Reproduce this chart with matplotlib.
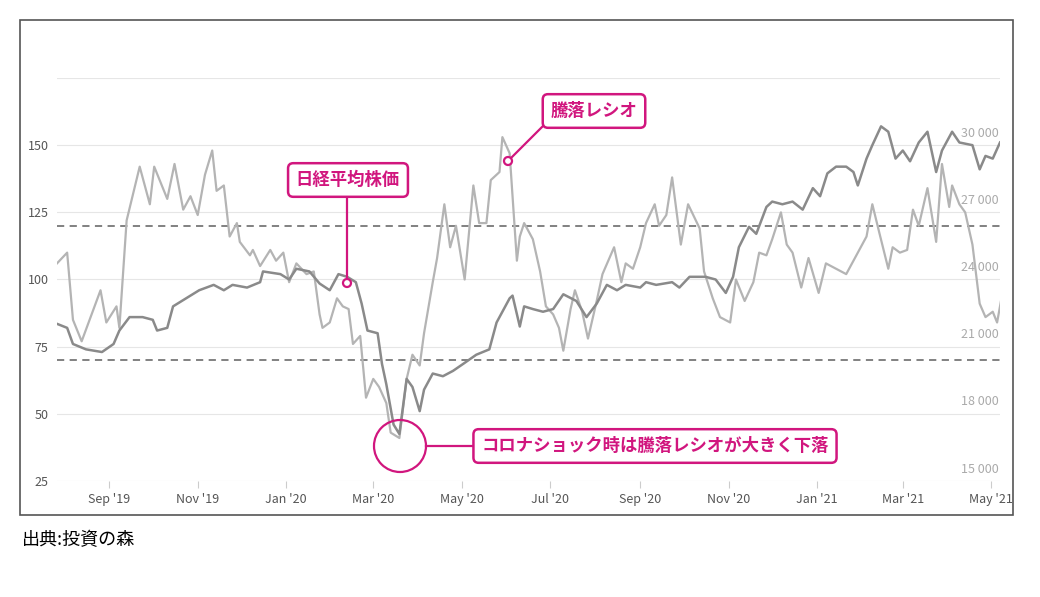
import matplotlib.pyplot as plt
import matplotlib.dates as mdates
from matplotlib.patches import Rectangle, Ellipse
import pandas as pd

plt.rcParams['font.family'] = ['Noto Sans CJK JP']

# 騰落レシオ (days since start, value)
start = pd.Timestamp('2019-07-27')
ratio_days = [0, 7, 11, 17, 30, 34, 41, 43, 48, 57, 64, 67, 76, 81, 87, 92, 97, 102, 107, 110,
              115, 119, 124, 126, 133, 135, 140, 147, 151, 156, 160, 165, 172, 177, 181, 183, 188,
              193, 197, 201, 204, 209, 213, 218, 222, 227, 230, 236, 241, 245, 250, 253, 259, 262,
              267, 271, 275, 281, 287, 291, 296, 299, 305, 307, 312, 317, 319, 322, 328, 333, 337,
              342, 346, 349, 354, 357, 362, 366, 372, 376, 384, 389, 392, 397, 402, 406, 412, 415,
              420, 424, 430, 435, 443, 446, 452, 457, 464, 468, 474, 480, 484, 489, 493, 499, 503,
              507, 513, 518, 525, 530, 537, 544, 553, 558, 562, 567, 573, 576, 581, 586, 590, 594,
              600, 606, 610, 615, 617, 622, 626, 631, 636, 640, 645, 648, 651]
ratio = [106, 110, 85, 77, 96, 84, 90, 82, 122, 142, 128, 142, 130, 143, 126, 131, 124, 139, 148, 133,
         135, 116, 121, 114, 109, 111, 105, 111, 107, 110, 99, 106, 102, 103, 87, 82, 84,
         93, 90, 89, 76, 79, 56, 63, 60, 54, 43, 41, 63, 72, 68, 80, 99, 108,
         128, 112, 120, 100, 135, 121, 121, 137, 140, 153, 147, 107, 116, 121, 115, 103, 90,
         87, 82, 73.5, 89, 96, 88, 78, 92, 102, 112, 99, 106, 104, 112, 121, 128, 120,
         124, 138, 113, 128, 119, 103, 93, 86, 84, 100, 92, 99, 110, 109, 115, 125, 113,
         110, 97, 108, 95, 106, 104, 102, 111, 116, 128, 117, 104, 112, 110, 111, 126, 120,
         134, 114, 143, 127, 135, 128, 125, 113, 91, 86, 88, 84, 93]

# 日経平均株価 (in left-axis units, right axis = 15000 + (v - 25) * 120)
nikkei_days = [0, 7, 11, 20, 31, 39, 43, 50, 59, 66, 69, 76, 80, 89, 98, 108, 115, 121, 131, 140,
               142, 154, 160, 165, 174, 181, 188, 194, 200, 206, 210, 214, 221, 224, 227, 232, 236,
               241, 245, 250, 253, 259, 266, 273, 280, 289, 298, 303, 312, 314, 319, 322, 328, 335,
               342, 349, 358, 365, 372, 379, 386, 392, 402, 406, 413, 424, 429, 436, 447, 454, 461,
               466, 470, 477, 482, 489, 493, 500, 507, 514, 521, 526, 531, 537, 544, 549, 552, 558,
               562, 568, 573, 578, 583, 588, 594, 600, 606, 610, 617, 622, 631, 636, 640, 645, 650]
nikkei = [83.5, 82, 76, 74, 73, 76, 81, 86, 86, 85, 81, 82, 90, 93, 96, 98, 96, 98, 97, 99,
          103, 102, 100, 104, 103, 98.5, 96, 102, 101, 99, 91, 81, 80, 68.6, 61, 46, 42.5,
          63, 60, 51, 59, 65, 64, 66, 68.6, 72, 74, 84, 93, 94, 82.5, 90, 89, 88,
          89, 94.5, 92, 86, 91, 98, 96, 98, 97, 99, 98, 99, 97, 101, 101, 100, 95,
          101, 112, 119.6, 117, 127, 129, 128, 129, 126, 134, 131, 139.5, 142, 142, 140, 135, 145,
          150, 157, 155, 145, 148, 144, 151, 155, 140, 148, 155, 151, 150, 141, 146, 145, 151]

ratio_dates = start + pd.to_timedelta(ratio_days, unit='D')
nikkei_dates = start + pd.to_timedelta(nikkei_days, unit='D')

magenta = '#d1167e'
fig = plt.figure(figsize=(10.4, 5.97), dpi=100)
ax = fig.add_axes([57/1040, 1-481/597, 943/1040, 403/597])

ax.plot(ratio_dates, ratio, color='#b4b4b4', lw=1.6, zorder=3)
ax.plot(nikkei_dates, nikkei, color='#8a8a8a', lw=1.8, zorder=4)
ax.axhline(120, color='#777777', ls='--', lw=1.3, dashes=(4, 3), zorder=2)
ax.axhline(70, color='#777777', ls='--', lw=1.3, dashes=(4, 3), zorder=2)

ax.set_ylim(25, 175)
ax.set_xlim(start, start + pd.Timedelta(days=650))
ax.set_yticks([25, 50, 75, 100, 125, 150, 175])
ax.set_yticklabels(['25', '50', '75', '100', '125', '150', ''])
ax.grid(axis='y', color='#e6e6e6', lw=0.8)
ax.set_axisbelow(True)
for s in ax.spines.values():
    s.set_visible(False)
ax.tick_params(axis='y', length=0, labelsize=9, labelcolor='#555555', pad=6)
ax.xaxis.set_major_locator(mdates.MonthLocator(bymonth=[1, 3, 5, 7, 9, 11]))
ax.xaxis.set_major_formatter(mdates.DateFormatter("%b '%y"))
ax.tick_params(axis='x', length=5, color='#cccccc', labelsize=9, labelcolor='#555555')

# right-hand labels, inside the plot
for v in [15000, 18000, 21000, 24000, 27000, 30000]:
    y = 25 + (v - 15000) / 120
    ax.text(0.999, y + 2, f'{v // 1000} 000', transform=ax.get_yaxis_transform(),
            ha='right', va='bottom', fontsize=9, color='#aaaaaa')

# annotations
def label(text, x, y):
    fig.text(x / 1040, 1 - y / 597, text, ha='center', va='center', fontsize=12.5,
             fontweight='bold', color=magenta,
             bbox=dict(boxstyle='round,pad=0.45,rounding_size=0.3', fc='white', ec=magenta, lw=1.8))

def line(x0, y0, x1, y1):
    fig.add_artist(plt.Line2D([x0 / 1040, x1 / 1040], [1 - y0 / 597, 1 - y1 / 597],
                              color=magenta, lw=1.6, transform=fig.transFigure))

def circle(x, y, r, fc='white'):
    fig.add_artist(Ellipse((x / 1040, 1 - y / 597), 2 * r / 1040, 2 * r / 597,
                           transform=fig.transFigure, fc=fc, ec=magenta, lw=1.6, zorder=10))

line(347, 195, 347, 283)
circle(347, 283, 4)
label('日経平均株価', 348, 180)

line(508, 161, 545, 124)
circle(508, 161, 4)
label('騰落レシオ', 594, 111)

circle(400, 446, 26, fc='none')
line(426, 446, 484, 446)
label('コロナショック時は騰落レシオが大きく下落', 655, 446)

fig.add_artist(Rectangle((20 / 1040, 1 - 515 / 597), 993 / 1040, 495 / 597,
                         transform=fig.transFigure, fc='none', ec='#555555', lw=1.2))
fig.text(22 / 1040, 1 - 540 / 597, '出典:投資の森', fontsize=13, va='center', ha='left')

fig.savefig('out.png', dpi=100)
